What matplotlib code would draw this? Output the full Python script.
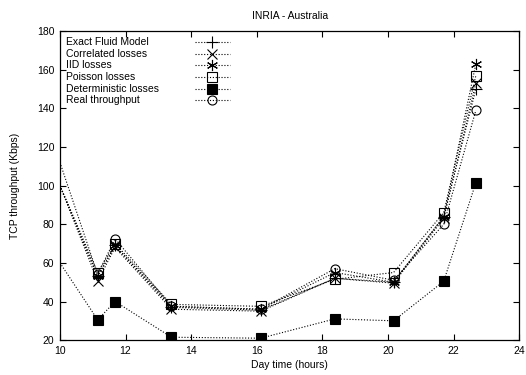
import matplotlib
matplotlib.use('Agg')
import matplotlib.pyplot as plt

plt.rcParams['font.family'] = ['Liberation Sans', 'DejaVu Sans']
plt.rcParams['font.size'] = 7.5

# time of day (hours); first point sits on the left border
hours = [10.0, 11.15, 11.68, 13.4, 16.12, 18.38, 20.17, 21.7, 22.68]

exact = [100, 53, 69, 37, 35.5, 52, 50, 84, 150]
correlated = [100, 50.5, 68, 36, 35, 52, 49.5, 83, 153]
iid = [100, 53, 69, 37.5, 36, 55, 50, 84, 163]
poisson = [100, 55, 70, 38.5, 37.5, 51.5, 55, 86, 157]
deterministic = [60, 30.5, 40, 21.5, 21, 31, 30, 50.5, 101.5]
real = [112, 54, 72.5, 37.5, 36, 57, 51, 80, 139]

labels = ['Exact Fluid Model', 'Correlated losses', 'IID losses',
          'Poisson losses', 'Deterministic losses', 'Real throughput']
series = [exact, correlated, iid, poisson, deterministic, real]
# marker, size, fill
styles = [('+', 8, 'full'), ('x', 7, 'full'), ((6, 2, 0), 8, 'full'),
          ('s', 6.5, 'none'), ('s', 7, 'full'), ('o', 6.5, 'none')]

fig = plt.figure(figsize=(5.26, 3.75), dpi=100)
ax = fig.add_axes([0.114, 0.093, 0.873, 0.824])

dots = (0, (1, 1.6))
for vals, (m, ms, fill) in zip(series, styles):
    ax.plot(hours, vals, color='black', linestyle=dots, linewidth=0.8,
            marker=m, markersize=ms, fillstyle=fill, markeredgewidth=0.8,
            markevery=slice(1, None))

ax.set_xlim(10, 24)
ax.set_ylim(20, 180)
ax.set_xticks(range(10, 25, 2))
ax.set_yticks(range(20, 181, 20))
ax.tick_params(direction='in', length=4, width=0.8, top=True, right=True, pad=4)
for s in ax.spines.values():
    s.set_linewidth(0.9)

ax.set_title('INRIA - Australia', fontsize=7.5, pad=9)
ax.set_xlabel('Day time (hours)', labelpad=3)
ax.set_ylabel('TCP throughput (Kbps)', labelpad=12)

# gnuplot style key: left aligned text, sample line to the right
y0 = 0.964
dy = 0.0375
for i, (lab, (m, ms, fill)) in enumerate(zip(labels, styles)):
    y = y0 - i * dy
    ax.text(0.013, y, lab, transform=ax.transAxes, va='center', ha='left')
    ax.plot([0.294, 0.370], [y, y], transform=ax.transAxes, color='black',
            linestyle=dots, linewidth=0.8, clip_on=False)
    ax.plot([0.332], [y], transform=ax.transAxes, color='black', marker=m,
            markersize=ms, fillstyle=fill, markeredgewidth=0.8, clip_on=False)

fig.savefig('out.png', dpi=100)
